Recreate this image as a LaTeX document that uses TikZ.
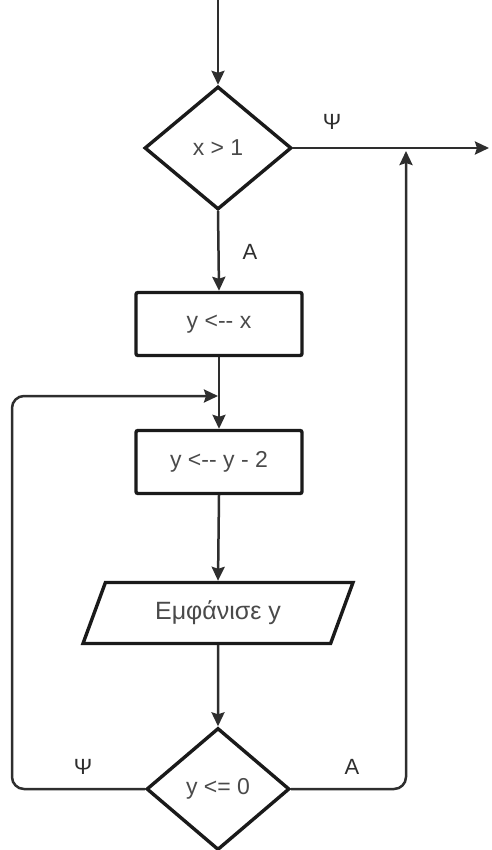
\documentclass[tikz,border=0pt]{standalone}
\usepackage{fontspec}
\setmainfont{Liberation Sans}
\usetikzlibrary{shapes.geometric,arrows.meta}
\definecolor{linec}{HTML}{1A1A1A}
\definecolor{connc}{HTML}{2E2E2E}
\definecolor{textc}{HTML}{4A4A4A}
\tikzset{
  shapeline/.style={draw=linec,line width=3.4pt,fill=white,text=textc,font=\fontsize{23}{26}\selectfont,inner sep=0pt},
  decision/.style={shapeline,diamond},
  procbox/.style={shapeline,rectangle,rounded corners=2pt,minimum width=166pt,minimum height=63pt},
  iobox/.style={shapeline,trapezium,trapezium left angle=47,trapezium right angle=133,trapezium stretches body,minimum width=270pt,minimum height=61pt,font=\fontsize{25}{28}\selectfont},
  conn/.style={draw=connc,line width=2.5pt,-{Stealth[length=14pt,width=13pt,inset=2pt]}},
  lbl/.style={text=connc,font=\fontsize{22}{24}\selectfont,inner sep=0pt}
}
\begin{document}
\begin{tikzpicture}[x=1pt,y=-1pt]
\useasboundingbox (0,0) rectangle (491,850);
\node[decision,minimum width=147pt,minimum height=123pt] (d1) at (218,148) {x > 1};
\node[procbox] (b1) at (219,324) {y <{-}{-} x};
\node[procbox] (b2) at (219,462) {y <{-}{-} y - 2};
\node[iobox] (p) at (218,613) {Εμφάνισε y};
\node[decision,minimum width=143pt,minimum height=122pt] (d2) at (218,789) {y <= 0};
\coordinate (start) at (218,0);
\coordinate (out) at (489,148);
\coordinate (m) at (218,396);
\coordinate (lc1) at (12,789);
\coordinate (lc2) at (12,396);
\coordinate (rc1) at (406,789);
\coordinate (rc2) at (406,151);
\draw[conn] (start) -- (d1.north);
\draw[conn] (d1.east) -- (out);
\draw[conn] (d1.south) -- (b1.north);
\draw[conn] (b1.south) -- (b2.north);
\draw[conn] (b2.south) -- (p.north);
\draw[conn] (p.south) -- (d2.north);
\draw[conn,rounded corners=12pt] (d2.west) -- (lc1) -- (lc2) -- (m);
\draw[conn,rounded corners=12pt] (d2.east) -- (rc1) -- (rc2);
\node[lbl] (l1) at (332,122) {Ψ};
\node[lbl] (l2) at (250,252) {A};
\node[lbl] (l3) at (83,767) {Ψ};
\node[lbl] (l4) at (352,767) {A};
\end{tikzpicture}
\end{document}
